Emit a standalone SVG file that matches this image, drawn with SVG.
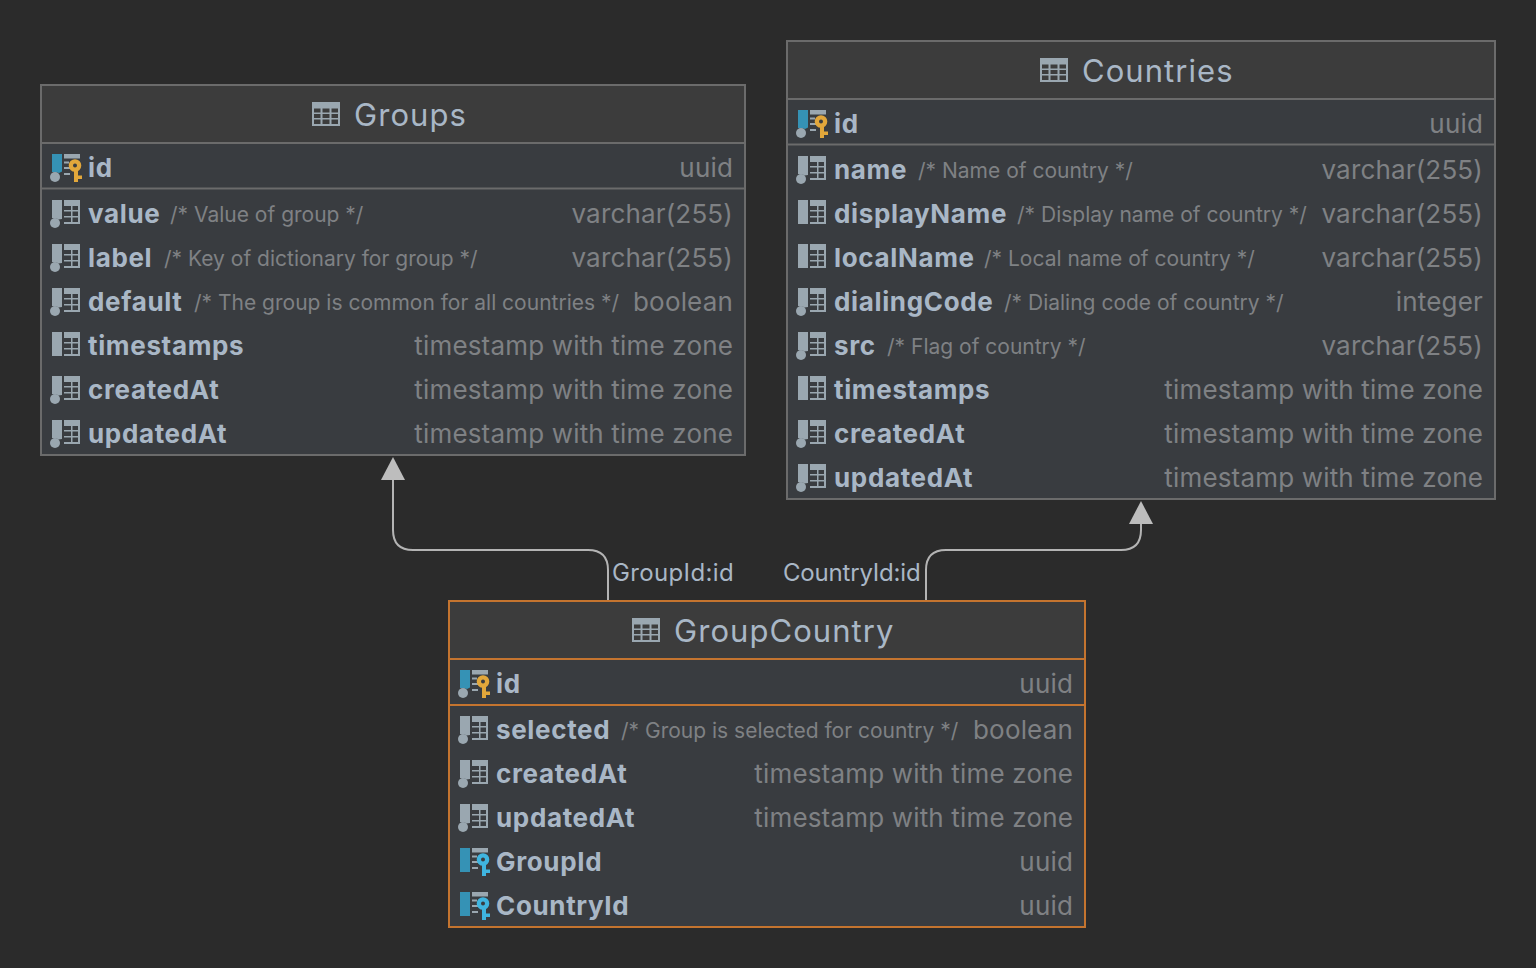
<svg xmlns="http://www.w3.org/2000/svg" width="1536" height="968" viewBox="0 0 1536 968">
<style>
text{font-family:Inter,"Liberation Sans",sans-serif}
.box{fill:#393c40;stroke:#6b6b6b;stroke-width:2}
.head{fill:#3c3c3c}
.sep{stroke:#6b6b6b;stroke-width:2;fill:none}
.o .box{stroke:#c4742f}.o .sep{stroke:#c4742f}
.title{font-size:31px;fill:#a9b7c6;letter-spacing:1.05px}
.n{font-size:26px;font-weight:700;fill:#a9b7c6;letter-spacing:.65px}
.c{font-size:21px;fill:#7f8184}
.t{font-size:26px;fill:#7f8184;text-anchor:end;letter-spacing:.17px}
.l{font-size:24px;fill:#a9b7c6;letter-spacing:.4px}
.edge{fill:none;stroke:#b4b4b4;stroke-width:2}
.g{fill:#9aa7b0}.b{fill:#3592b5}.k{fill:#e2a73b}.kb{fill:#3fb5e0}
</style>
<defs>
<g id="tbl"><path class="g" fill-rule="evenodd" d="M0 0H28V24H0ZM2 6.500V10.500H8.500V6.500ZM10.500 6.500V10.500H17.500V6.500ZM19.500 6.500V10.500H26V6.500ZM2 12V16H8.500V12ZM10.500 12V16H17.500V12ZM19.500 12V16H26V12ZM2 17.500V22H8.500V17.500ZM10.500 17.500V22H17.500V17.500ZM19.500 17.500V22H26V17.500Z"/></g>
<g id="grid"><path class="g" fill-rule="evenodd" d="M12 0H28V24H12ZM12 6V10H19V6ZM20.500 6V10H26V6ZM12 11.500V16H19V11.500ZM20.500 11.500V16H26V11.500ZM12 17.500V22H19V17.500ZM20.500 17.500V22H26V17.500Z"/></g>
<g id="col"><path class="g" d="M0 0H10V19L6.500 19.500L4 18H0Z"/><circle class="g" cx="3" cy="23" r="5"/><use href="#grid"/></g>
<g id="colplain"><rect class="g" x="0" y="0" width="10" height="24"/><use href="#grid"/></g>
<g id="lines"><path class="g" d="M12 0H28V4.500H12ZM12 7.500H17V9.500H12ZM12 13H18V15H12ZM12 19H18V21H12Z"/></g>
<g id="key"><path fill-rule="evenodd" d="M23 5.200A6.300 6.300 0 1 1 23 17.800A6.300 6.300 0 1 1 23 5.200ZM23 9.500A2 2 0 1 0 23 13.500A2 2 0 1 0 23 9.500Z"/><path d="M22 17H26V21.500H30V25H26V28H22Z"/></g>
<g id="pk"><path class="b" d="M0 0H10V17.500L7 19L4 18H0Z"/><circle class="g" cx="3" cy="23" r="5"/><use href="#lines"/><use href="#key" class="k"/></g>
<g id="fk"><rect class="b" x="0" y="0" width="10" height="24"/><use href="#lines"/><use href="#key" class="kb"/></g>
</defs>
<rect width="1536" height="968" fill="#2b2b2b"/>
<g id="connectors">
<path class="edge" d="M608 600V570Q608 550 588 550H413Q393 550 393 530V480"/>
<path d="M381 480L393 457L405 480Z" fill="#bdbdbd"/>
<path class="edge" d="M926 600V570Q926 550 946 550H1121Q1141 550 1141 530V524"/>
<path d="M1129 524L1141 501L1153 524Z" fill="#bdbdbd"/>
<text class="l" x="612" y="581" textLength="122">GroupId:id</text>
<text class="l" x="783" y="581" textLength="138">CountryId:id</text>
</g>
<g id="groups">
<rect class="box" x="41" y="85" width="704" height="370"/>
<rect class="head" x="42" y="86" width="702" height="57"/>
<path class="sep" d="M41 143H745M41 188.500H745"/>
<use href="#tbl" x="312" y="102"/>
<text class="title" x="354" y="126">Groups</text>
<use href="#pk" x="52" y="154"/><text class="n" x="88" y="176.500">id</text><text class="t" x="733" y="176.500">uuid</text>
<use href="#col" x="52" y="200"/><text class="n" x="88" y="222.500">value</text><text class="c" x="170" y="222">/* Value of group */</text><text class="t" x="733" y="222.500">varchar(255)</text>
<use href="#col" x="52" y="244"/><text class="n" x="88" y="266.500">label</text><text class="c" x="164" y="266">/* Key of dictionary for group */</text><text class="t" x="733" y="266.500">varchar(255)</text>
<use href="#col" x="52" y="288"/><text class="n" x="88" y="310.500">default</text><text class="c" x="194" y="310">/* The group is common for all countries */</text><text class="t" x="733" y="310.500">boolean</text>
<use href="#colplain" x="52" y="332"/><text class="n" x="88" y="354.500">timestamps</text><text class="t" x="733" y="354.500">timestamp with time zone</text>
<use href="#col" x="52" y="376"/><text class="n" x="88" y="398.500">createdAt</text><text class="t" x="733" y="398.500">timestamp with time zone</text>
<use href="#col" x="52" y="420"/><text class="n" x="88" y="442.500">updatedAt</text><text class="t" x="733" y="442.500">timestamp with time zone</text>
</g>
<g id="countries">
<rect class="box" x="787" y="41" width="708" height="458"/>
<rect class="head" x="788" y="42" width="706" height="57"/>
<path class="sep" d="M787 99H1495M787 144.500H1495"/>
<use href="#tbl" x="1040" y="58"/>
<text class="title" x="1082" y="82">Countries</text>
<use href="#pk" x="798" y="110"/><text class="n" x="834" y="132.500">id</text><text class="t" x="1483" y="132.500">uuid</text>
<use href="#col" x="798" y="156"/><text class="n" x="834" y="178.500">name</text><text class="c" x="918" y="178">/* Name of country */</text><text class="t" x="1483" y="178.500">varchar(255)</text>
<use href="#colplain" x="798" y="200"/><text class="n" x="834" y="222.500">displayName</text><text class="c" x="1017" y="222">/* Display name of country */</text><text class="t" x="1483" y="222.500">varchar(255)</text>
<use href="#colplain" x="798" y="244"/><text class="n" x="834" y="266.500">localName</text><text class="c" x="984" y="266">/* Local name of country */</text><text class="t" x="1483" y="266.500">varchar(255)</text>
<use href="#col" x="798" y="288"/><text class="n" x="834" y="310.500">dialingCode</text><text class="c" x="1004" y="310">/* Dialing code of country */</text><text class="t" x="1483" y="310.500">integer</text>
<use href="#col" x="798" y="332"/><text class="n" x="834" y="354.500">src</text><text class="c" x="887" y="354">/* Flag of country */</text><text class="t" x="1483" y="354.500">varchar(255)</text>
<use href="#colplain" x="798" y="376"/><text class="n" x="834" y="398.500">timestamps</text><text class="t" x="1483" y="398.500">timestamp with time zone</text>
<use href="#col" x="798" y="420"/><text class="n" x="834" y="442.500">createdAt</text><text class="t" x="1483" y="442.500">timestamp with time zone</text>
<use href="#col" x="798" y="464"/><text class="n" x="834" y="486.500">updatedAt</text><text class="t" x="1483" y="486.500">timestamp with time zone</text>
</g>
<g id="groupcountry" class="o">
<rect class="box" x="449" y="601" width="636" height="326"/>
<rect class="head" x="450" y="602" width="634" height="57"/>
<path class="sep" d="M449 659H1085M449 705H1085"/>
<use href="#tbl" x="632" y="618"/>
<text class="title" x="674" y="642">GroupCountry</text>
<use href="#pk" x="460" y="670"/><text class="n" x="496" y="692.500">id</text><text class="t" x="1073" y="692.500">uuid</text>
<use href="#col" x="460" y="716"/><text class="n" x="496" y="738.500">selected</text><text class="c" x="621" y="738">/* Group is selected for country */</text><text class="t" x="1073" y="738.500">boolean</text>
<use href="#col" x="460" y="760"/><text class="n" x="496" y="782.500">createdAt</text><text class="t" x="1073" y="782.500">timestamp with time zone</text>
<use href="#col" x="460" y="804"/><text class="n" x="496" y="826.500">updatedAt</text><text class="t" x="1073" y="826.500">timestamp with time zone</text>
<use href="#fk" x="460" y="848"/><text class="n" x="496" y="870.500">GroupId</text><text class="t" x="1073" y="870.500">uuid</text>
<use href="#fk" x="460" y="892"/><text class="n" x="496" y="914.500">CountryId</text><text class="t" x="1073" y="914.500">uuid</text>
</g>
</svg>
